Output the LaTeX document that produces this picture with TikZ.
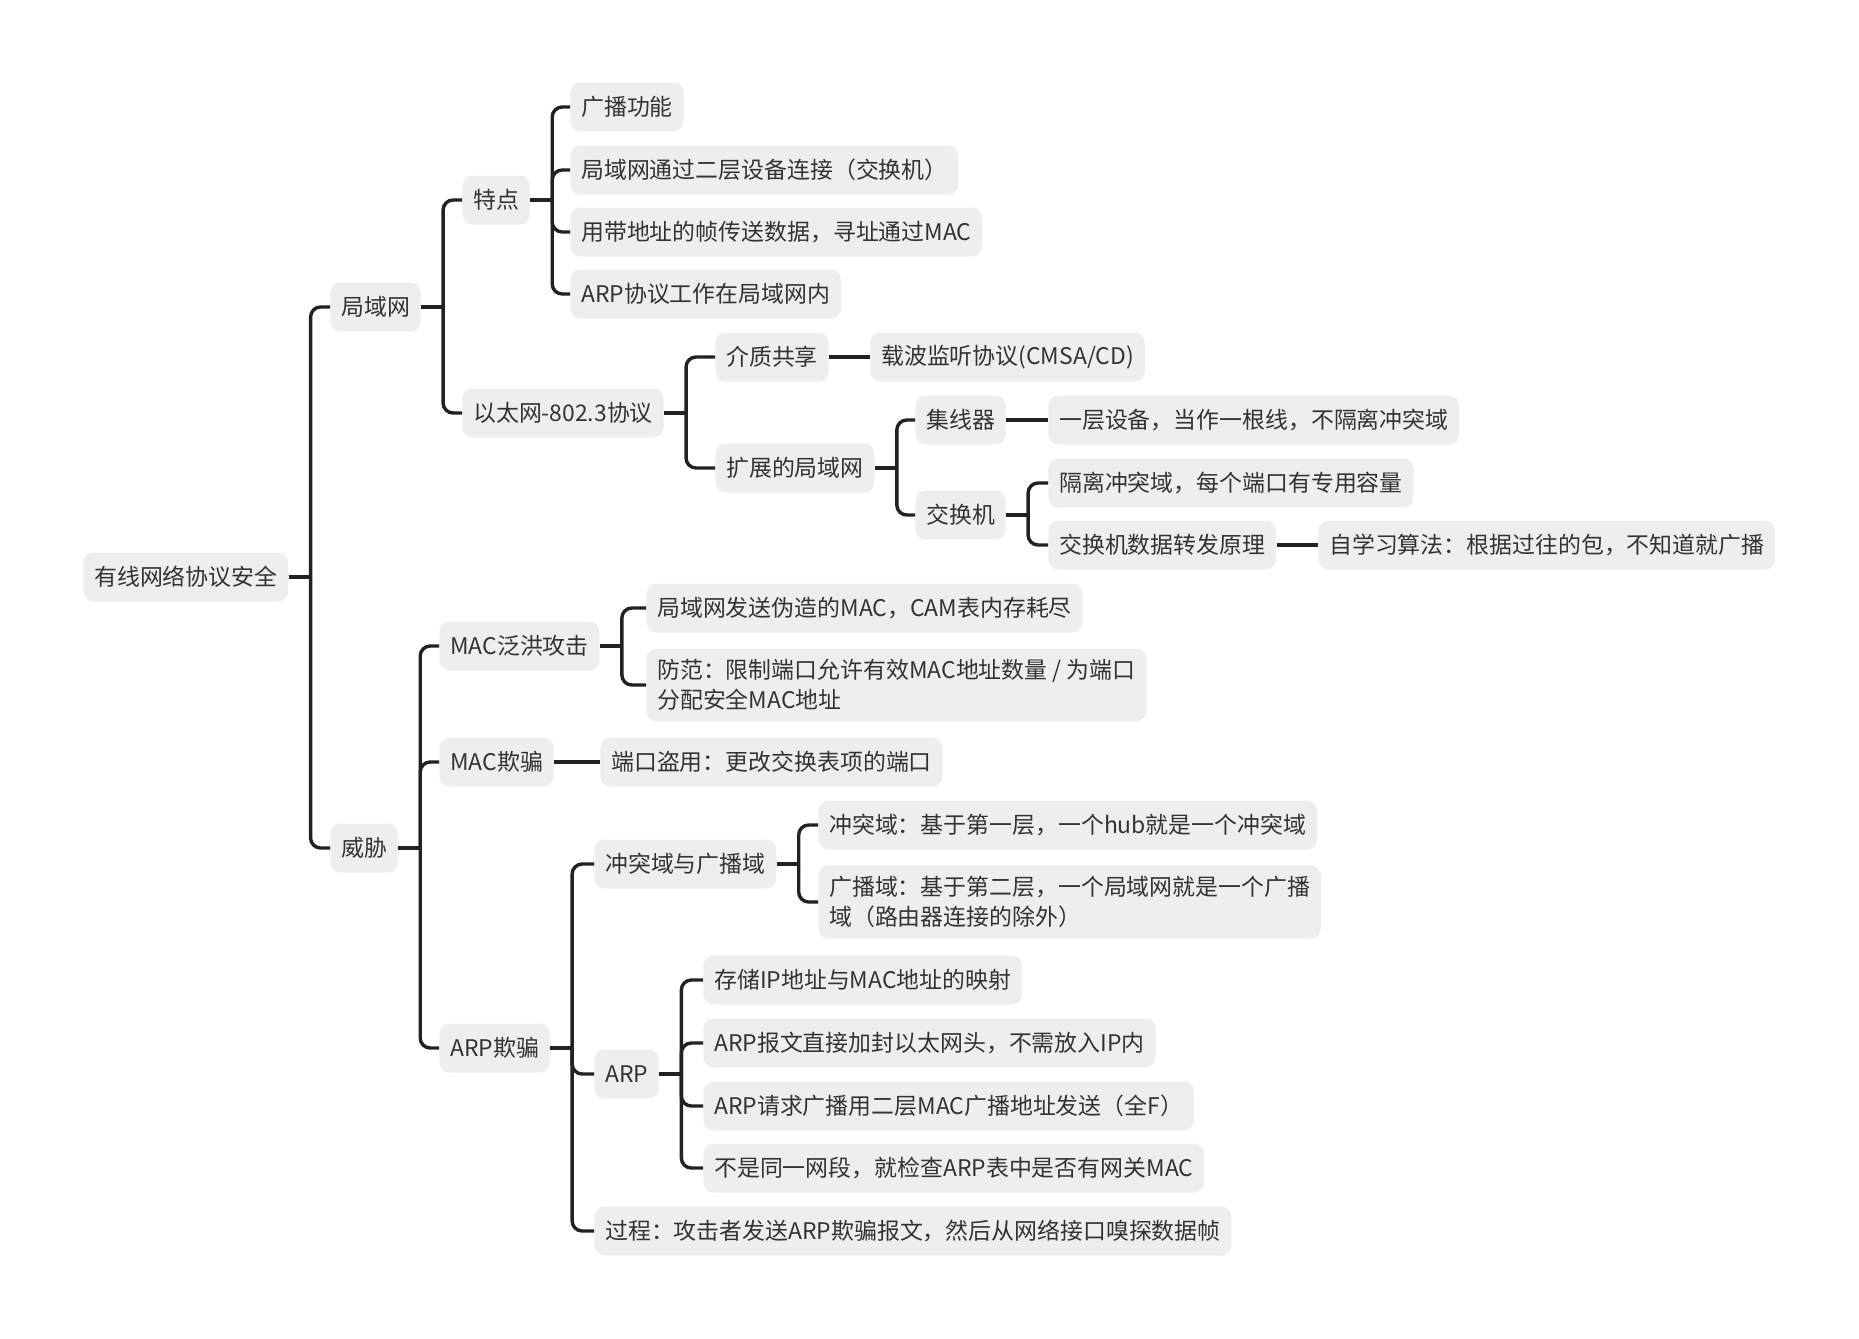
\documentclass[tikz,border=0pt]{standalone}
\usepackage{fontspec}
\setmainfont{Noto Sans CJK SC}
\usetikzlibrary{positioning}
\definecolor{boxgray}{HTML}{EEEEEE}
\definecolor{textgray}{HTML}{333333}
\definecolor{linegray}{HTML}{222222}

\begin{document}
\begin{tikzpicture}[x=0.5pt,y=0.5pt]
\tikzstyle{every node}=[anchor=west, fill=boxgray, rounded corners=5pt,
                        text=textgray, inner xsep=5.4pt, inner ysep=5.5pt,
                        minimum height=24.5pt, align=left,
                        font=\fontsize{11.45pt}{14.8pt}\selectfont]
\useasboundingbox (0,0) rectangle (1859,-1339);
% root
\node (root) at (83,-577){有线网络协议安全};
% LAN
\node (lan) at (330,-307){局域网};
\node (feat) at (462,-200){特点};
\node (f1) at (570,-107){广播功能};
\node (f2) at (570,-170){局域网通过二层设备连接（交换机）};
\node (f3) at (570,-232){用带地址的帧传送数据，寻址通过MAC};
\node (f4) at (570,-294){ARP协议工作在局域网内};
\node (eth) at (462,-413){以太网-802.3协议};
\node (share) at (715,-357){介质共享};
\node (csma) at (870,-357){载波监听协议(CMSA/CD)};
\node (ext) at (715,-468){扩展的局域网};
\node (hub) at (915,-420){集线器};
\node (hubd) at (1048,-420){一层设备，当作一根线，不隔离冲突域};
\node (sw) at (915,-515){交换机};
\node (sw1) at (1048,-483){隔离冲突域，每个端口有专用容量};
\node (sw2) at (1048,-545){交换机数据转发原理};
\node (learn) at (1318,-545){自学习算法：根据过往的包，不知道就广播};
% threats
\node (threat) at (330,-848){威胁};
\node (flood) at (439,-646){MAC泛洪攻击};
\node (fl1) at (646,-608){局域网发送伪造的MAC，CAM表内存耗尽};
\node (fl2) at (646,-685){防范：限制端口允许有效MAC地址数量 / 为端口\\分配安全MAC地址};
\node (mspoof) at (439,-762){MAC欺骗};
\node (ms1) at (600,-762){端口盗用：更改交换表项的端口};
\node (aspoof) at (439,-1048){ARP欺骗};
\node (dom) at (594,-864){冲突域与广播域};
\node (dom1) at (818,-825){冲突域：基于第一层，一个hub就是一个冲突域};
\node (dom2) at (818,-902){广播域：基于第二层，一个局域网就是一个广播\\域（路由器连接的除外）};
\node (arp) at (594,-1074){ARP};
\node (a1) at (703,-980){存储IP地址与MAC地址的映射};
\node (a2) at (703,-1043){ARP报文直接加封以太网头，不需放入IP内};
\node (a3) at (703,-1106){ARP请求广播用二层MAC广播地址发送（全F）};
\node (a4) at (703,-1168){不是同一网段，就检查ARP表中是否有网关MAC};
\node (proc) at (594,-1231){过程：攻击者发送ARP欺骗报文，然后从网络接口嗅探数据帧};
% connectors: forks
\foreach \p/\c in {root/lan,root/threat,lan/feat,lan/eth,feat/f1,feat/f2,feat/f3,feat/f4,
                   eth/share,eth/ext,ext/hub,ext/sw,sw/sw1,sw/sw2,
                   threat/flood,threat/mspoof,threat/aspoof,flood/fl1,flood/fl2,
                   aspoof/dom,aspoof/arp,aspoof/proc,dom/dom1,dom/dom2,
                   arp/a1,arp/a2,arp/a3,arp/a4}{
  \draw[linegray, line width=1.7pt] (\p.east) -- ++(11pt,0);
  \draw[linegray, line width=1.7pt, rounded corners=5pt] ([xshift=11pt]\p.east) |- (\c.west);}
% connectors: single child
\foreach \p/\c in {share/csma,hub/hubd,sw2/learn,mspoof/ms1}{
  \draw[linegray, line width=1.7pt] (\p.east) -- (\c.west);}
\end{tikzpicture}
\end{document}
